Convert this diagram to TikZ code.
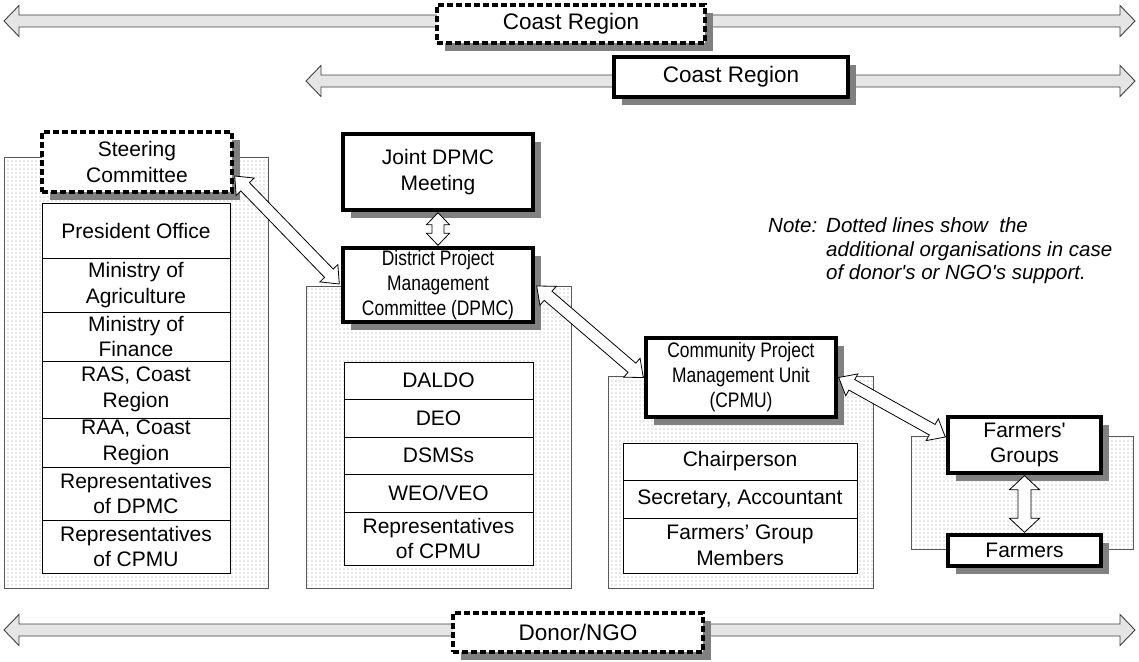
\documentclass[tikz,border=0pt]{standalone}
\usepackage{fontspec}
\setmainfont{Liberation Sans}[Ligatures=TeXOff]
\newfontfamily\narrowsans{Liberation Sans}[FakeStretch=0.83,Ligatures=TeXOff]
\usetikzlibrary{calc,shadows,patterns}

% Sparse dot texture for the background panels
\pgfdeclarepatternformonly{sparsedots}{\pgfqpoint{-1pt}{-1pt}}{\pgfqpoint{1pt}{1pt}}{\pgfqpoint{4pt}{4pt}}%
  {\pgfpathcircle{\pgfqpoint{0pt}{0pt}}{0.55pt}\pgfusepath{fill}}

% Block arrow with a head at both ends:
% #1 style, #2 start, #3 end, #4 half shaft width, #5 half head width, #6 head length
\newcommand{\hollowarrow}[6]{%
  \path (#2) coordinate (ha-a) (#3) coordinate (ha-b);
  \path ($(ha-a)!#6!(ha-b)$) coordinate (ha-p)
        ($(ha-b)!#6!(ha-a)$) coordinate (ha-q);
  \draw[#1] (ha-a)
    -- ($(ha-p)!#5!90:(ha-b)$) -- ($(ha-p)!#4!90:(ha-b)$)
    -- ($(ha-q)!#4!-90:(ha-a)$) -- ($(ha-q)!#5!-90:(ha-a)$)
    -- (ha-b)
    -- ($(ha-q)!#5!90:(ha-a)$) -- ($(ha-q)!#4!90:(ha-a)$)
    -- ($(ha-p)!#4!-90:(ha-b)$) -- ($(ha-p)!#5!-90:(ha-b)$)
    -- cycle;
}

\tikzset{
  txt/.style={font=\fontsize{21}{25.5}\selectfont, align=center, inner sep=0pt},
  solidbox/.style={txt, draw, line width=3.4pt, fill=white,
    drop shadow={shadow xshift=8pt, shadow yshift=-8pt, fill=black!50, opacity=1}},
  dashbox/.style={solidbox, dash pattern=on 6pt off 3pt},
  bandlabel/.style={font=\fontsize{22.5}{27}\selectfont},
  rowbox/.style={txt, draw, line width=1pt, fill=white},
  panel/.style={draw=black!65, line width=0.8pt, pattern=sparsedots, pattern color=black!40,
    anchor=north west, inner sep=0pt},
  band/.style={draw=black!75, line width=0.9pt, fill=black!10, line join=miter},
  link/.style={draw=black, line width=0.8pt, fill=white, line join=miter},
}

\begin{document}
\begin{tikzpicture}[x=1pt,y=-1pt]
\useasboundingbox (0,0) rectangle (1139,661);

% ---- horizontal bands ----
\coordinate (bandA-l) at (4,21);   \coordinate (bandA-r) at (1135,21);
\coordinate (bandB-l) at (306,81); \coordinate (bandB-r) at (1135,81);
\coordinate (bandC-l) at (4,630);  \coordinate (bandC-r) at (1135,630);
\hollowarrow{band}{bandA-l}{bandA-r}{6pt}{15.5pt}{15pt}
\hollowarrow{band}{bandB-l}{bandB-r}{6pt}{15.5pt}{15pt}
\hollowarrow{band}{bandC-l}{bandC-r}{6pt}{15.5pt}{15pt}

\node[dashbox, bandlabel, minimum width=268pt, minimum height=38pt] (coastA) at (571,24) {Coast Region};
\node[solidbox, bandlabel, minimum width=234pt, minimum height=40pt] (coastB) at (731,77) {Coast Region};
\node[dashbox, bandlabel, minimum width=250pt, minimum height=39pt] (donor) at (578,632.5) {Donor/NGO};

% ---- dotted panels ----
\node[panel, minimum width=264pt, minimum height=431pt] (panelA) at (4,157) {};
\node[panel, minimum width=265pt, minimum height=302pt] (panelB) at (306,286) {};
\node[panel, minimum width=265pt, minimum height=212pt] (panelC) at (608,376) {};
\node[panel, minimum width=222pt, minimum height=113pt] (panelD) at (911,436) {};

% ---- member lists ----
\begin{scope}[every node/.style={rowbox, minimum width=188pt}]
\node[minimum height=55pt] (l1) at (136,230.5) {President Office};
\node[minimum height=54pt] (l2) at (136,285) {Ministry of\\Agriculture};
\node[minimum height=49pt] (l3) at (136,336.5) {Ministry of\\Finance};
\node[minimum height=57pt] (l4) at (136,389.5) {RAS, Coast\\Region};
\node[minimum height=49pt] (l5) at (136,442.5) {RAA, Coast\\Region};
\node[minimum height=53pt] (l6) at (136,493.5) {Representatives\\of DPMC};
\node[minimum height=53pt] (l7) at (136,546.5) {Representatives\\of CPMU};
\end{scope}

\begin{scope}[every node/.style={rowbox, minimum width=189pt}]
\node[minimum height=37pt] (m1) at (438.5,380.5) {DALDO};
\node[minimum height=38pt] (m2) at (438.5,418) {DEO};
\node[minimum height=37pt] (m3) at (438.5,455.5) {DSMSs};
\node[minimum height=38pt] (m4) at (438.5,493) {WEO/VEO};
\node[minimum height=53pt] (m5) at (438.5,538.5) {Representatives\\of CPMU};
\end{scope}

\begin{scope}[every node/.style={rowbox, minimum width=234pt}]
\node[minimum height=37pt] (c1) at (740,461.5) {Chairperson};
\node[minimum height=38pt] (c2) at (740,499) {Secretary, Accountant};
\node[minimum height=55pt] (c3) at (740,545.5) {Farmers’ Group\\Members};
\end{scope}

% ---- committees and units ----
\node[dashbox, minimum width=190pt, minimum height=60pt] (steer) at (137,162) {Steering\\Committee};
\node[solidbox, minimum width=190pt, minimum height=76pt] (joint) at (438,172) {Joint DPMC\\Meeting};
\node[solidbox, minimum width=190pt, minimum height=74pt, font=\narrowsans\fontsize{21}{25}\selectfont] (dpmc) at (438,285)
  {District Project\\Management\\Committee (DPMC)};
\node[solidbox, minimum width=190pt, minimum height=79pt, font=\narrowsans\fontsize{21}{25}\selectfont] (cpmu) at (741,377.5)
  {Community Project\\Management Unit\\(CPMU)};
\node[solidbox, minimum width=153pt, minimum height=56pt] (fg) at (1024.5,445) {Farmers'\\Groups};
\node[solidbox, minimum width=153pt, minimum height=31pt] (farm) at (1024.5,550.5) {Farmers};

% ---- links ----
\hollowarrow{link}{$(steer.east)+(1,14)$}{$(dpmc.west)+(-2,-1)$}{6pt}{12.5pt}{15pt}
\hollowarrow{link}{$(dpmc.east)+(2,1)$}{$(cpmu.west)+(-1,0)$}{6pt}{12.5pt}{15pt}
\hollowarrow{link}{$(cpmu.east)+(1,0)$}{$(fg.west)+(-1,-8)$}{6pt}{12.5pt}{15pt}
\hollowarrow{link}{$(joint.south)+(0,1)$}{$(dpmc.north)+(0,-1)$}{6pt}{11.5pt}{12pt}
\hollowarrow{link}{$(fg.south)+(0,1)$}{$(farm.north)+(0,-1)$}{6.5pt}{15pt}{14pt}

% ---- note ----
\node[font=\fontsize{20.5}{23.5}\selectfont\itshape, anchor=north west, inner sep=0pt] (note) at (768,216)
  {\begin{tabular}{@{}l@{\hspace{9pt}}l@{}}\itshape Note: & \itshape Dotted lines show\ \ the\\
   & \itshape additional organisations in case\\ & \itshape of donor's or NGO's support.\end{tabular}};
\end{tikzpicture}
\end{document}
